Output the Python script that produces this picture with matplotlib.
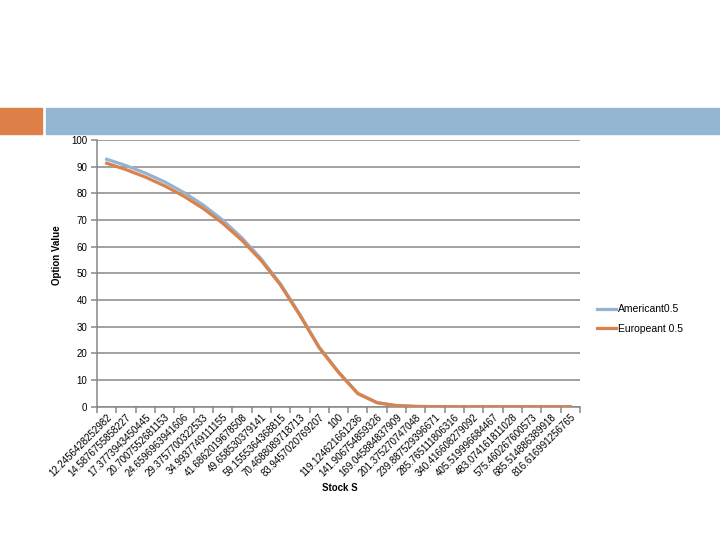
import matplotlib
matplotlib.use("Agg")
import matplotlib.pyplot as plt
import matplotlib.patches as mpatches
import numpy as np

plt.rcParams.update({
    "font.family": ["Liberation Sans Narrow", "Liberation Sans", "DejaVu Sans"],
    "font.size": 7,
})

# categories (stock price S) as shown on the axis
stock_labels = [
    "12.2456428252982", "14.5876755858227", "17.3773943450445", "20.7007552681153",
    "24.6596963941606", "29.3757700322533", "34.9937749111155", "41.6862019678508",
    "49.658530379141", "59.1555364368815", "70.4688089718713", "83.9457020769207",
    "100", "119.124621661236", "141.906754859326", "169.045884837909",
    "201.375270747048", "239.887529396671", "285.765111806316", "340.416608279092",
    "405.519996684467", "483.074161811028", "575.460267600573", "685.514886389918",
    "816.616991256765",
]
american = [92.8, 90.4, 87.6, 84.3, 80.3, 75.6, 70.0, 63.3, 55.4, 46.0, 34.6, 22.3,
            13.0, 5.0, 1.5, 0.4, 0.1, 0.02, 0.0, 0.0, 0.0, 0.0, 0.0, 0.0, 0.0]
european = [91.3, 88.9, 86.1, 82.8, 78.9, 74.3, 68.8, 62.4, 54.8, 45.6, 34.3, 22.1,
            12.9, 4.9, 1.5, 0.4, 0.1, 0.02, 0.0, 0.0, 0.0, 0.0, 0.0, 0.0, 0.0]

BLUE = "#95B3D0"
ORANGE = "#D9824B"
GRID = "#878787"

fig = plt.figure(figsize=(7.2, 5.4), dpi=100)

# header bars
fig.patches.append(mpatches.Rectangle((0, 1 - 134 / 540), 42 / 720, 26 / 540,
                                      transform=fig.transFigure, color="#DD8047"))
fig.patches.append(mpatches.Rectangle((46 / 720, 1 - 134 / 540), 674 / 720, 26 / 540,
                                      transform=fig.transFigure, color="#94B6D2"))

ax = fig.add_axes([97 / 720, 1 - 406.7 / 540, 483 / 720, 266.7 / 540])
x = np.arange(len(stock_labels))
ax.plot(x, american, color=BLUE, lw=2.3, label="Americant0.5", zorder=3)
ax.plot(x, european, color=ORANGE, lw=2.3, label="Europeant 0.5", zorder=4)

ax.set_xlim(-0.5, len(stock_labels) - 0.5)
ax.set_ylim(0, 100)
ax.set_yticks(range(0, 101, 10))
ax.grid(axis="y", color=GRID, lw=1.1)
ax.set_axisbelow(True)

ax.set_xticks(x)
ax.set_xticklabels(stock_labels, rotation=45, ha="right", va="top",
                   rotation_mode="anchor")
ax.set_xticks(np.arange(-0.5, len(stock_labels)), minor=True)
ax.tick_params(axis="x", which="major", length=0, pad=4)
ax.tick_params(axis="x", which="minor", length=4, color=GRID, width=1.1)
ax.tick_params(axis="y", length=4, color=GRID, width=1.1, pad=3)

for s in ["top", "right"]:
    ax.spines[s].set_visible(False)
for s in ["left", "bottom"]:
    ax.spines[s].set_color(GRID)
    ax.spines[s].set_linewidth(1.1)

fig.text(57 / 720, 1 - 255 / 540, "Option Value", rotation=90, ha="center",
         va="center", fontsize=7, fontweight="bold")
fig.text(340 / 720, 1 - 488 / 540, "Stock S", ha="center", va="center",
         fontsize=7, fontweight="bold")

fig.legend(loc="center left", bbox_to_anchor=(588 / 720, 1 - 319 / 540),
           frameon=False, handlelength=1.8, handletextpad=0.2,
           labelspacing=0.9, fontsize=7.5)

fig.savefig("out.png", dpi=100)
